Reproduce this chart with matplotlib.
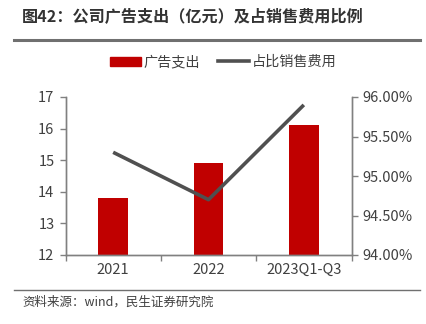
import matplotlib
matplotlib.use("Agg")
import matplotlib.pyplot as plt
from matplotlib.ticker import FuncFormatter, FixedLocator
from matplotlib.lines import Line2D
from matplotlib.patches import Patch

plt.rcParams['font.family'] = ['Noto Sans CJK SC', 'DejaVu Sans']

categories = ["2021", "2022", "2023Q1-Q3"]
ad_spend = [13.8, 14.9, 16.1]          # 亿元
ratio = [95.3, 94.7, 95.9]             # %
left_ticks = [12, 13, 14, 15, 16, 17]
right_ticks = [94.0, 94.5, 95.0, 95.5, 96.0]

title = "图42：公司广告支出（亿元）及占销售费用比例"
source = "资料来源：wind，民生证券研究院"

TXT = "#404040"
AX = "#808080"
RED = "#C00000"
LINE = "#505050"

fig = plt.figure(figsize=(4.26, 3.24), dpi=100)
ax = fig.add_axes([65.5/426, 1-255/324, (351.5-65.5)/426, (255-97)/324])
ax2 = ax.twinx()

x = list(range(len(categories)))
ax.bar(x, ad_spend, width=0.31, color=RED, zorder=2)
ax2.plot(x, ratio, color=LINE, lw=2.6, solid_capstyle='butt', zorder=3)

ax.set_xlim(-0.5, len(categories)-0.5)
ax.set_ylim(left_ticks[0], left_ticks[-1])
ax2.set_ylim(right_ticks[0], right_ticks[-1])
ax.set_yticks(left_ticks)
ax2.set_yticks(right_ticks)
ax2.yaxis.set_major_formatter(FuncFormatter(lambda v, p: f"{v:.2f}%"))

ax.set_xticks(x)
ax.set_xticklabels(categories)
ax.xaxis.set_minor_locator(FixedLocator([i-0.5 for i in range(len(categories)+1)]))
ax.tick_params(axis='x', which='major', length=0, pad=6, labelsize=10.5, labelcolor=TXT)
ax.tick_params(axis='x', which='minor', length=4, color=AX, width=1)
ax.tick_params(axis='y', length=4, color=AX, width=1, labelsize=10.5, labelcolor=TXT, pad=4)
ax2.tick_params(axis='y', length=4, color=AX, width=1, labelsize=10.5, labelcolor=TXT, pad=4)

for a in (ax, ax2):
    a.spines['top'].set_visible(False)
    for s in ('left', 'right', 'bottom'):
        a.spines[s].set_color(AX)
        a.spines[s].set_linewidth(1)

handles = [Patch(facecolor=RED, edgecolor=RED), Line2D([0], [0], color=LINE, lw=2.6)]
fig.legend(handles, ["广告支出", "占比销售费用"], loc='center', bbox_to_anchor=(223/426, 1-62/324),
           ncol=2, frameon=False, fontsize=10.2, labelcolor=TXT, handlelength=2.2,
           handleheight=0.6, handletextpad=0.15, columnspacing=1.3)

fig.text(22/426, 1-17/324, title, fontsize=11.6, fontweight='bold', color="#333333", va='center', ha='left')
fig.add_artist(Line2D([14/426, 420/426], [1-40/324, 1-40/324], color="#707070", lw=2.2))
fig.add_artist(Line2D([14/426, 420/426], [1-290/324, 1-290/324], color="#707070", lw=1.0))
fig.text(22/426, 1-302/324, source, fontsize=9, color=TXT, va='center', ha='left')

fig.savefig("out.png", dpi=100)
